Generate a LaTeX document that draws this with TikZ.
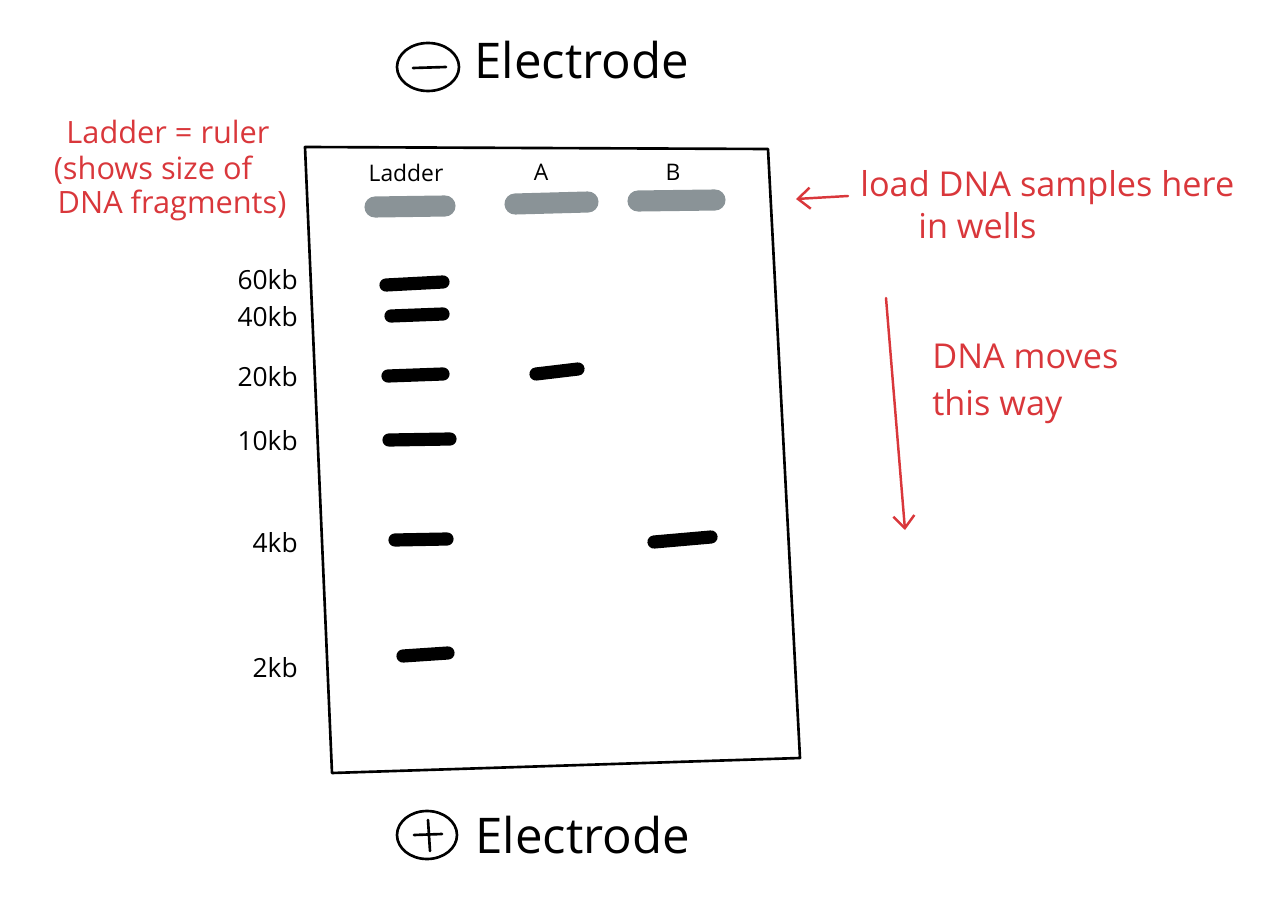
\documentclass[tikz,border=0pt]{standalone}
\usepackage{fontspec}
\setmainfont{Open Sans}
\usetikzlibrary{arrows.meta}
\definecolor{redink}{HTML}{D9373B}
\definecolor{wellgray}{HTML}{8A9397}
\tikzset{
  ink/.style={draw=black, line width=1.5pt, line cap=round, line join=round},
  band/.style={line width=7.5pt, line cap=round, draw=black},
  well/.style={line width=12pt, line cap=round, draw=wellgray},
  bigtxt/.style={font=\fontsize{28}{30}\selectfont, inner sep=0pt},
  lanetxt/.style={font=\fontsize{13}{15}\selectfont, inner sep=0pt},
  sizetxt/.style={font=\fontsize{15}{17}\selectfont, inner sep=0pt, anchor=east},
  notetxt/.style={font=\fontsize{19.5}{22}\selectfont, text=redink, inner sep=0pt},
  leftnote/.style={font=\fontsize{17.5}{20}\selectfont, text=redink, inner sep=0pt},
  redarrow/.style={draw=redink, line width=1.4pt, line cap=round, -{Straight Barb[length=7pt,width=12pt]}},
}
\begin{document}
\begin{tikzpicture}[x=0.02cm, y=-0.02cm]
\useasboundingbox (0,0) rectangle (1272,902);
% top electrode
\draw[ink] (428,67) ellipse [x radius=31, y radius=24];
\draw[ink] (413,68) -- (446,67);
\node[bigtxt, anchor=west] (etop) at (474,60) {Electrode};
% bottom electrode
\draw[ink] (427,835) ellipse [x radius=30, y radius=24];
\draw[ink] (414,835) -- (442,834);
\draw[ink] (428,820) -- (430,851);
\node[bigtxt, anchor=west] (ebot) at (475,835) {Electrode};
% gel
\draw[ink] (305,147) -- (768,149) -- (800,758) -- (332,773) -- cycle;
% lane labels
\node[lanetxt] (lladder) at (406,173) {Ladder};
\node[lanetxt] (lA) at (541,172) {A};
\node[lanetxt] (lB) at (673,172) {B};
% wells
\draw[well] (375,207) -- (445,206);
\draw[well] (515,204) -- (588,202);
\draw[well] (638,201) -- (715,200);
% ladder bands
\draw[band] (386,285) -- (443,282);
\draw[band] (391,316) -- (443,314);
\draw[band] (388,376) -- (443,374);
\draw[band] (389,440) -- (450,439);
\draw[band] (395,540) -- (447,539);
\draw[band] (403,656) -- (448,653);
% sample bands
\draw[band] (536,374) -- (578,369);
\draw[band] (654,542) -- (711,537);
% size labels
\node[sizetxt] (s60) at (298,280) {60kb};
\node[sizetxt] (s40) at (298,317) {40kb};
\node[sizetxt] (s20) at (298,377) {20kb};
\node[sizetxt] (s10) at (298,441) {10kb};
\node[sizetxt] (s4) at (298,543) {4kb};
\node[sizetxt] (s2) at (298,668) {2kb};
% red notes
\node[leftnote] (n1) at (168,132) {Ladder = ruler};
\node[leftnote] (n2) at (153,170) {(shows size of};
\node[leftnote] (n3) at (172,205) {DNA fragments)};
\node[notetxt, anchor=west] (n4) at (860,188) {load DNA samples here};
\node[notetxt, anchor=west] (n5) at (918,226) {in wells};
\node[notetxt, anchor=west] (n6) at (932,356) {DNA moves};
\node[notetxt, anchor=west] (n7) at (932,407) {this way};
\coordinate (a1s) at (848,196);
\coordinate (a1e) at (796,199);
\draw[redarrow] (a1s) -- (a1e);
\coordinate (a2s) at (886,298);
\coordinate (a2e) at (905,530);
\draw[redarrow] (a2s) -- (a2e);
\end{tikzpicture}
\end{document}
